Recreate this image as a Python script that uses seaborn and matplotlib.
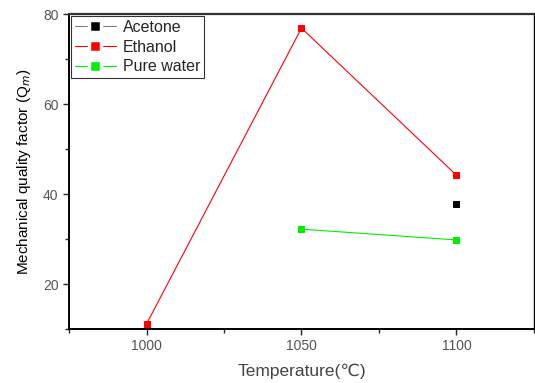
import pandas as pd
import seaborn as sns
import matplotlib.pyplot as plt
from matplotlib.lines import Line2D
from matplotlib.ticker import MultipleLocator

# values
temps_acetone = [1100]
qm_acetone = [37.8]
temps_ethanol = [1000, 1050, 1100]
qm_ethanol = [11.1, 76.9, 44.2]
temps_water = [1050, 1100]
qm_water = [32.2, 29.8]

sns.set_style('ticks')
plt.rcParams['font.family'] = ['Liberation Sans', 'DejaVu Sans']

fig = plt.figure(figsize=(5.35, 3.83), dpi=100)
ax = fig.add_axes([0.129, 0.141, 0.869, 0.822])

series = [
    ('Acetone', temps_acetone, qm_acetone, 'gray', 'black'),
    ('Ethanol', temps_ethanol, qm_ethanol, 'red', 'red'),
    ('Pure water', temps_water, qm_water, '#00ee00', '#00ee00'),
]
handles = []
for name, xs, ys, lc, mc in series:
    df = pd.DataFrame({'T': xs, 'Q': ys})
    sns.lineplot(data=df, x='T', y='Q', ax=ax, color=lc, linewidth=0.8,
                 marker='s', markersize=5, markerfacecolor=mc, markeredgecolor=mc)
    # white edge gives the gap between marker and line in the legend
    handles.append(Line2D([0], [0], color=lc, lw=0.8, marker='s', markersize=8,
                          markerfacecolor=mc, markeredgecolor='white',
                          markeredgewidth=2.5, label=name))

ax.set_xlim(975, 1125)
ax.set_ylim(10, 80)
ax.set_xticks([1000, 1050, 1100])
ax.xaxis.set_minor_locator(MultipleLocator(25))
ax.set_yticks([20, 40, 60, 80])
ax.yaxis.set_minor_locator(MultipleLocator(10))
ax.tick_params(axis='both', which='major', direction='out', length=4, width=1,
               labelsize=10, labelcolor='#555555')
ax.tick_params(axis='both', which='minor', direction='out', length=3, width=1)

for s in ['left', 'bottom']:
    ax.spines[s].set_linewidth(1.4)
    ax.spines[s].set_color('black')
ax.spines['top'].set_linewidth(1.6)
ax.spines['top'].set_color('#333333')
ax.spines['right'].set_linewidth(1.0)
ax.spines['right'].set_color('black')

ax.set_xlabel('Temperature(\u2103)', fontsize=12.5, color='#444444', labelpad=7)
ax.set_ylabel('Mechanical quality factor (Q$_m$)', fontsize=11, color='black',
              labelpad=7)

leg = ax.legend(handles=handles, loc='upper left', fontsize=11.5, frameon=True,
                fancybox=False, edgecolor='black', borderaxespad=0.1,
                handlelength=2.6, handletextpad=0.4, labelspacing=0.3,
                borderpad=0.25)
leg.get_frame().set_linewidth(0.8)

fig.savefig('out.png', dpi=100)
